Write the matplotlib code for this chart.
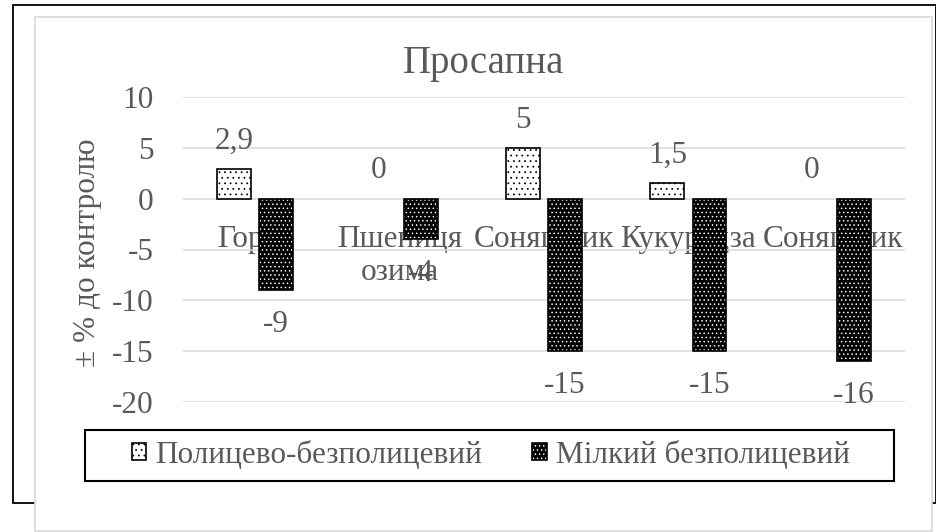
import numpy as np
import matplotlib
matplotlib.use("Agg")
import matplotlib.pyplot as plt
from matplotlib.patches import Rectangle
from matplotlib.legend_handler import HandlerTuple

categories = ["Горох", "Пшениця\nозима", "Соняшник", "Кукурудза", "Соняшник"]
series_names = ["Полицево-безполицевий", "Мілкий безполицевий"]
polytsevo = [2.9, 0, 5, 1.5, 0]
milkyi = [-9, -4, -15, -15, -16]
yticks = [-20, -15, -10, -5, 0, 5, 10]

plt.rcParams['font.family'] = ['Liberation Serif', 'DejaVu Serif']
plt.rcParams['hatch.linewidth'] = 0.55
grey_txt = '#595959'
grid_c = '#d9d9d9'
fs = 22.5

W, H = 937, 532
fig = plt.figure(figsize=(W / 100, H / 100), dpi=100)

def px_rect(x0, y0, x1, y1, **kw):
    # pixel coords from top-left
    return Rectangle((x0 / W, 1 - y1 / H), (x1 - x0) / W, (y1 - y0) / H,
                     transform=fig.transFigure, **kw)

# black outer frame and chart area
fig.patches.append(px_rect(13, 5, 936, 503, facecolor='white', edgecolor='black',
                           linewidth=1.3, zorder=-3))
fig.patches.append(px_rect(35, 17, 932, 531, facecolor='white', edgecolor=grid_c,
                           linewidth=1.2, zorder=-2))

ax = fig.add_axes([183 / W, 1 - 402 / H, (905 - 183) / W, (402 - 97) / H])
ax.set_facecolor('none')

x = np.arange(len(categories))
bw = 0.235
off = 0.146

lw1 = [1.2 if v != 0 else 0 for v in polytsevo]
b1 = ax.bar(x - off, polytsevo, bw, color='white', edgecolor='black', hatch='...',
            linewidth=0, zorder=2)
o1 = ax.bar(x - off, polytsevo, bw, fill=False, edgecolor='black', linewidth=lw1, zorder=3)
b2 = ax.bar(x + off, milkyi, bw, color='black', edgecolor='white', hatch='....',
            linewidth=0, zorder=2)
o2 = ax.bar(x + off, milkyi, bw, fill=False, edgecolor='black', linewidth=1.2, zorder=3)

def fmt(v):
    return f"{v:g}".replace('.', ',')

for xi, v in zip(x - off, polytsevo):
    ax.annotate(fmt(v), (xi, v), xytext=(0, 20), textcoords='offset points',
                ha='center', va='center', fontsize=fs, color=grey_txt)
for xi, v in zip(x + off, milkyi):
    ax.annotate(fmt(v), (xi, v), xytext=(0, -24.5), textcoords='offset points',
                ha='center', va='center', fontsize=fs, color=grey_txt)

ax.set_xlim(-0.5, len(categories) - 0.5)
ax.set_ylim(-20, 10)
ax.set_yticks(yticks)
ax.set_yticklabels([str(t) for t in yticks])
ax.set_xticks(x)
ax.set_xticklabels(categories, linespacing=1.75)
ax.set_axisbelow(True)
ax.grid(axis='y', color=grid_c, linewidth=1.1)
for s in ax.spines.values():
    s.set_visible(False)
ax.spines['bottom'].set_position(('data', 0))
ax.tick_params(axis='x', length=0, pad=19, labelsize=fs, labelcolor=grey_txt)
ax.tick_params(axis='y', length=0, pad=21, labelsize=fs, labelcolor=grey_txt)

ax.set_ylabel("± % до контролю", fontsize=fs, color=grey_txt)
ax.yaxis.set_label_coords((88 - 183) / 722, (402 - 252.5) / 305)
ax.yaxis.label.set_verticalalignment('center')

fig.text(484 / W, 1 - 73 / H, "Просапна", ha='center', va='baseline',
         fontsize=28, color=grey_txt)

# legend
fig.patches.append(px_rect(85, 430, 894, 481, fill=False, edgecolor='black',
                           linewidth=1.5, zorder=5))
fig.legend([(b1[0], o1[0]), (b2[0], o2[0])], series_names,
           handler_map={tuple: HandlerTuple(ndivide=1)},
           loc='center', bbox_to_anchor=(491 / W, 1 - 455.5 / H),
           ncol=2, frameon=False, fontsize=fs, labelcolor=grey_txt,
           handlelength=0.45, handleheight=0.45, handletextpad=0.3,
           columnspacing=1.6)

fig.savefig("out.png", dpi=100)
